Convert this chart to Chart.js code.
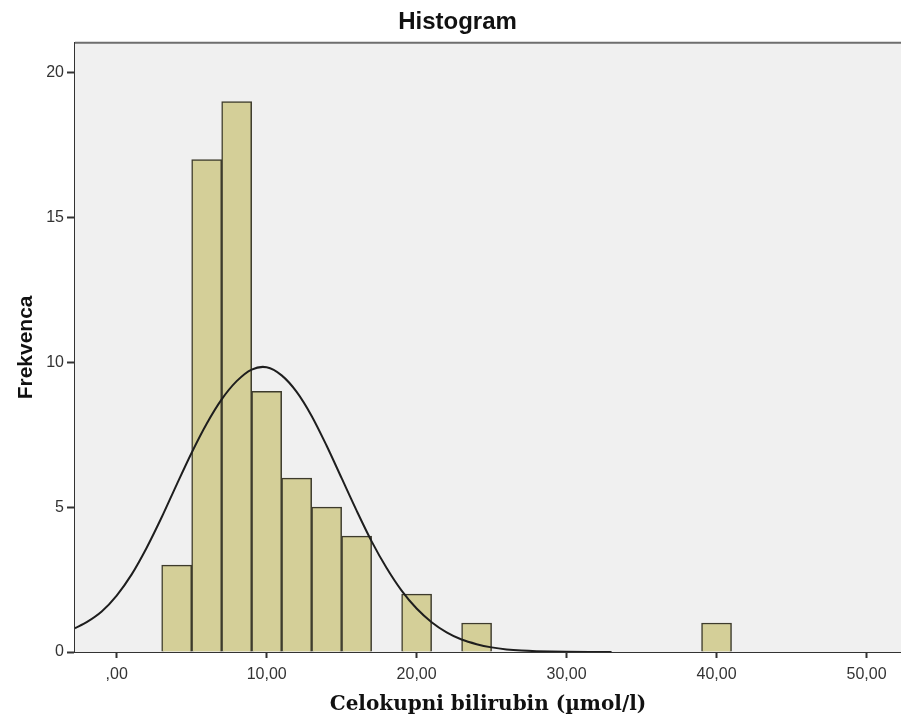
<!DOCTYPE html>
<html>
  <head>
    <meta charset="utf-8">
    <title>Histogram</title>
    <style>
      body { margin: 0; background: #ffffff; }
      canvas { display: block; }
    </style>
  </head>
  <body>
    <canvas id="myChart" width="901" height="718"></canvas>
  </body>
  <script src="https://cdn.jsdelivr.net/npm/chart.js@4/dist/chart.umd.min.js"></script>
  <script type="text/javascript">

  // histogram bins (centre of each 2-wide bin) and their counts
  const binCenters = [4, 6, 8, 10, 12, 14, 16, 18, 20, 22, 24, 26, 28, 30, 32, 34, 36, 38, 40];
  const binCounts  = [3, 17, 19, 9, 6, 5, 4, 0, 2, 0, 1, 0, 0, 0, 0, 0, 0, 0, 1];

  // normal curve
  const curveX = [-2.78, -2, -1, 0, 1, 2, 3, 4, 5, 6, 7, 8, 9, 10, 11, 12, 13, 14, 15, 16, 17, 18, 19, 20, 21, 22, 23, 24, 25, 26, 27, 28, 30, 33];
  const curveY = [0.82, 1.03, 1.4, 1.95, 2.68, 3.6, 4.65, 5.78, 6.88, 7.88, 8.72, 9.35, 9.75, 9.83, 9.55, 8.98, 8.15, 7.12, 6.0, 4.88, 3.82, 2.9, 2.12, 1.5, 1.03, 0.68, 0.43, 0.27, 0.16, 0.09, 0.05, 0.03, 0.01, 0];

  const xTickValues = [0, 10, 20, 30, 40, 50];
  const xTickLabels = [',00', '10,00', '20,00', '30,00', '40,00', '50,00'];
  const yTickValues = [0, 5, 10, 15, 20];
  const yTickLabels = ['0', '5', '10', '15', '20'];

  const plotBg = {
    id: 'plotBg',
    beforeDatasetsDraw(chart) {
      const a = chart.chartArea;
      const ctx = chart.ctx;
      ctx.save();
      ctx.fillStyle = '#f0f0f0';
      ctx.fillRect(a.left, a.top, a.right - a.left, a.bottom - a.top);
      ctx.strokeStyle = '#6e6e6e';
      ctx.lineWidth = 2;
      ctx.beginPath();
      ctx.moveTo(a.left, a.top);
      ctx.lineTo(a.right, a.top);
      ctx.stroke();
      ctx.restore();
    }
  };

  const ctx = document.getElementById('myChart').getContext('2d');
  const chart = new Chart(ctx, {
    data: {
      datasets: [{
        type: 'line',
        label: 'Normal',
        data: curveX.map((x, i) => ({x: x, y: curveY[i]})),
        borderColor: '#1e1e1e',
        borderWidth: 2,
        pointRadius: 0,
        tension: 0.3,
        fill: false,
        order: 0
      }, {
        type: 'bar',
        label: 'Frekvenca',
        data: binCenters.map((x, i) => ({x: x, y: binCounts[i]})),
        backgroundColor: '#d4cf98',
        borderColor: '#3d3b2c',
        borderWidth: 1.5,
        borderSkipped: 'start',
        barPercentage: 1,
        categoryPercentage: 1,
        order: 1
      }]
    },
    options: {
      responsive: false,
      animation: false,
      devicePixelRatio: 1,
      layout: { padding: { left: 14, right: 0, top: 0, bottom: 0 } },
      plugins: {
        legend: { display: false },
        tooltip: { enabled: false },
        title: {
          display: true,
          text: 'Histogram',
          color: '#111111',
          font: { family: 'Liberation Sans', size: 24, weight: 'bold' },
          padding: { top: 8, bottom: 6 }
        }
      },
      scales: {
        x: {
          type: 'linear',
          min: -2.78,
          max: 52.3,
          offset: false,
          afterBuildTicks: (s) => { s.ticks = xTickValues.map(v => ({value: v})); },
          afterFit: (s) => { s.height = 66; },
          ticks: {
            autoSkip: false,
            maxRotation: 0,
            padding: 7,
            color: '#333333',
            font: { family: 'Liberation Sans', size: 16 },
            callback: (v) => xTickLabels[xTickValues.indexOf(v)]
          },
          grid: {
            display: true,
            offset: false,
            drawOnChartArea: false,
            drawTicks: true,
            tickLength: 6,
            tickWidth: 2,
            tickColor: '#333333'
          },
          border: { display: true, color: '#333333', width: 2 },
          title: {
            display: true,
            text: 'Celokupni bilirubin (µmol/l)',
            color: '#111111',
            font: { family: 'DejaVu Serif', size: 20, weight: 'bold' },
            padding: { top: 0, bottom: 1 }
          }
        },
        y: {
          type: 'linear',
          min: 0,
          max: 21.03,
          afterBuildTicks: (s) => { s.ticks = yTickValues.map(v => ({value: v})); },
          afterFit: (s) => { s.width = 61; },
          ticks: {
            padding: 3,
            color: '#333333',
            font: { family: 'Liberation Sans', size: 16 },
            callback: (v) => yTickLabels[yTickValues.indexOf(v)]
          },
          grid: {
            display: true,
            drawOnChartArea: false,
            drawTicks: true,
            tickLength: 8,
            tickWidth: 2,
            tickColor: '#333333'
          },
          border: { display: true, color: '#333333', width: 2 },
          title: {
            display: true,
            text: 'Frekvenca',
            color: '#111111',
            font: { family: 'Liberation Sans', size: 21, weight: 'bold' },
            padding: { top: 0, bottom: 0 }
          }
        }
      }
    },
    plugins: [plotBg]
  });
  </script>
</html>
